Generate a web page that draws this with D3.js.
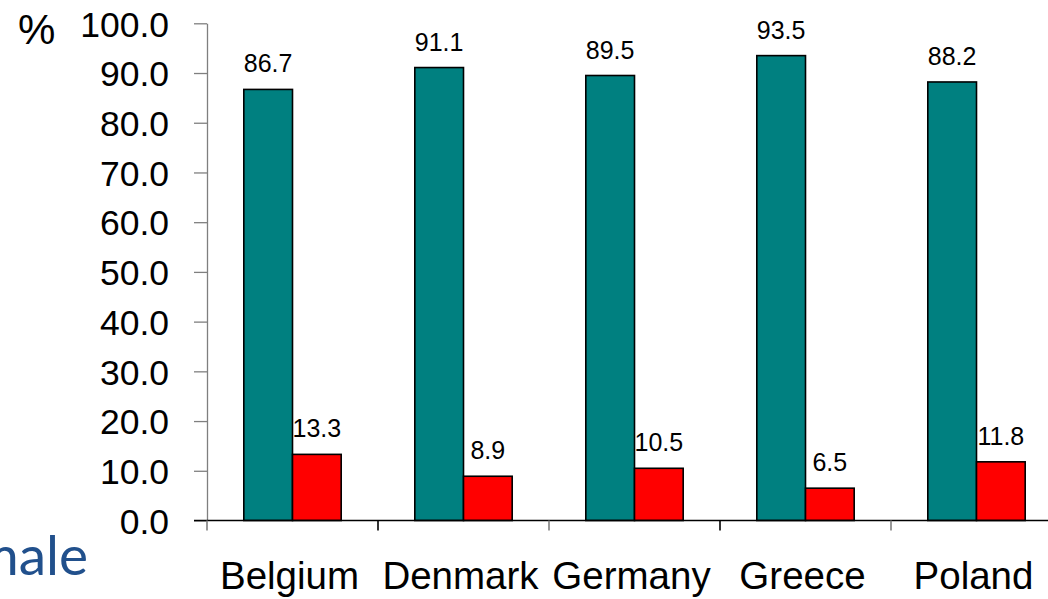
<!DOCTYPE html>
<html>
<head>
<meta charset="utf-8">
<script src="https://cdn.jsdelivr.net/npm/d3@7/dist/d3.min.js"></script>
<style>
  html, body { margin: 0; padding: 0; background: #fff; }
  svg { display: block; }
</style>
</head>
<body>
<svg id="chart" width="1048" height="599"></svg>
<script>
// Countries and the two shares (%) shown for each
const countries = ["Belgium", "Denmark", "Germany", "Greece", "Poland"];
const seriesNames = ["Yes", "No"];
const yesValues = [86.7, 91.1, 89.5, 93.5, 88.2];
const noValues = [13.3, 8.9, 10.5, 6.5, 11.8];
const yTicks = [0, 10, 20, 30, 40, 50, 60, 70, 80, 90, 100];
const seriesColors = ["#008080", "#FF0000"];

const svg = d3.select("#chart");
const font = "'Liberation Sans', Arial, sans-serif";

const plotLeft = 207, plotTop = 23.3, plotBottom = 520.5, bandStep = 171;

const x = d3.scaleBand()
  .domain(countries)
  .range([plotLeft, plotLeft + bandStep * countries.length])
  .paddingInner(0).paddingOuter(0);

const xSub = d3.scaleBand()
  .domain(seriesNames)
  .range([0, x.bandwidth()])
  .paddingInner(0).paddingOuter(0.756);

const y = d3.scaleLinear().domain([0, 100]).range([plotBottom, plotTop]);

// Side caption, partly running off the left edge
svg.append("text")
  .attr("x", 88).attr("y", 575)
  .attr("text-anchor", "end")
  .attr("font-family", "Lato, 'Open Sans', sans-serif")
  .attr("font-size", 55)
  .attr("fill", "#21508C")
  .text("Female");

// Y axis
const yAxis = svg.append("g")
  .attr("transform", `translate(${plotLeft},0)`)
  .call(d3.axisLeft(y).tickValues(yTicks).tickFormat(d3.format(".1f")).tickSizeInner(13).tickSizeOuter(0).tickPadding(25));
yAxis.select(".domain").attr("stroke", "#7f7f7f").attr("stroke-width", 1.3);
yAxis.selectAll(".tick line").attr("stroke", "#7f7f7f").attr("stroke-width", 1.3);
yAxis.selectAll(".tick text")
  .attr("font-family", font).attr("font-size", 35.5).attr("fill", "#000")
  .attr("dy", "0.36em");

// Unit label
svg.append("text")
  .attr("x", 18).attr("y", 44)
  .attr("font-family", font).attr("font-size", 42).attr("fill", "#000")
  .text("%");

// Bars
const rows = countries.map((c, i) => ({ country: c, values: [yesValues[i], noValues[i]] }));
const groups = svg.append("g").selectAll("g")
  .data(rows).join("g")
  .attr("transform", d => `translate(${x(d.country)},0)`);

groups.selectAll("rect")
  .data(d => d.values.map((v, j) => ({ name: seriesNames[j], value: v, j })))
  .join("rect")
  .attr("x", d => xSub(d.name))
  .attr("y", d => y(d.value))
  .attr("width", xSub.bandwidth())
  .attr("height", d => y(0) - y(d.value))
  .attr("fill", d => seriesColors[d.j])
  .attr("stroke", "#000").attr("stroke-width", 1.6);

groups.selectAll("text.val")
  .data(d => d.values.map((v, j) => ({ name: seriesNames[j], value: v })))
  .join("text").attr("class", "val")
  .attr("x", d => xSub(d.name) + xSub.bandwidth() / 2)
  .attr("y", d => y(d.value) - 17)
  .attr("text-anchor", "middle")
  .attr("font-family", font).attr("font-size", 25).attr("fill", "#000")
  .text(d => d3.format(".1f")(d.value));

// X axis line and category separators
const xAxis = svg.append("g");
xAxis.append("line")
  .attr("x1", 194).attr("x2", 1048)
  .attr("y1", plotBottom).attr("y2", plotBottom)
  .attr("stroke", "#000").attr("stroke-width", 1.6);
const edges = countries.map(c => x(c));
xAxis.selectAll("line.sep")
  .data(edges).join("line").attr("class", "sep")
  .attr("x1", d => d).attr("x2", d => d)
  .attr("y1", plotBottom).attr("y2", plotBottom + 10)
  .attr("stroke", (d, i) => i % 2 === 0 ? "#7f7f7f" : "#000")
  .attr("stroke-width", 1.6);

xAxis.selectAll("text.cat")
  .data(countries).join("text").attr("class", "cat")
  .attr("x", d => x(d) + x.bandwidth() / 2 - 3)
  .attr("y", 589)
  .attr("text-anchor", "middle")
  .attr("font-family", font).attr("font-size", 38.5).attr("fill", "#000")
  .text(d => d);
</script>
</body>
</html>
